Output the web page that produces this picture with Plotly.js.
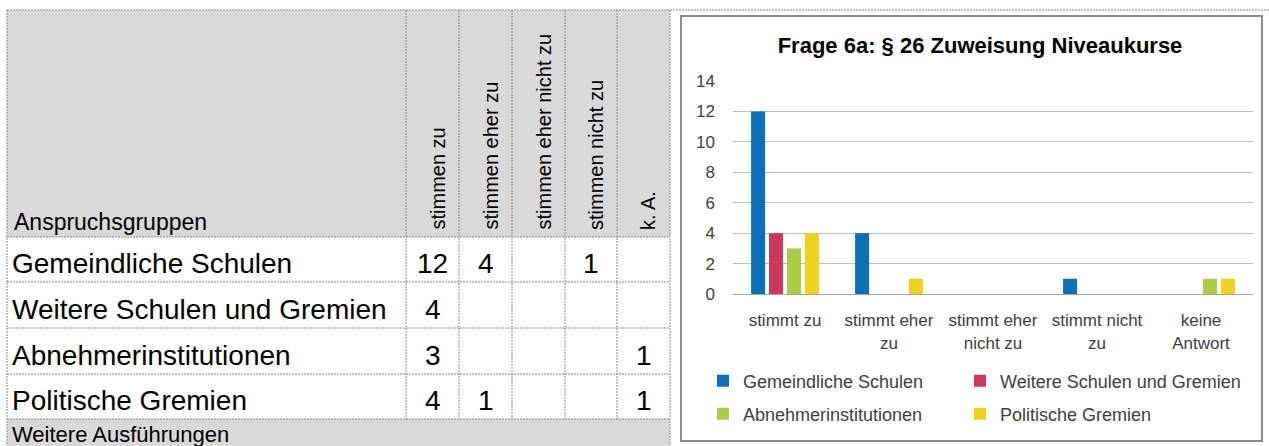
<!DOCTYPE html>
<html>
<head>
<meta charset="utf-8">
<script src="https://cdn.plot.ly/plotly-3.0.1.min.js"></script>
<style>
html,body{margin:0;padding:0;background:#fff;}
#chart{width:1269px;height:446px;}
</style>
</head>
<body>
<div id="chart"></div>
<script>
// ---- data ----
const categories = ['stimmt zu', 'stimmt eher<br>zu', 'stimmt eher<br>nicht zu', 'stimmt nicht<br>zu', 'keine<br>Antwort'];
const groups = ['Gemeindliche Schulen', 'Weitere Schulen und Gremien', 'Abnehmerinstitutionen', 'Politische Gremien'];
const gemeindlicheSchulen = [12, 4, 0, 1, 0];
const weitereSchulen = [4, 0, 0, 0, 0];
const abnehmerinstitutionen = [3, 0, 0, 0, 1];
const politischeGremien = [4, 1, 0, 0, 1];
const tableHeaders = ['stimmen zu', 'stimmen eher zu', 'stimmen eher nicht zu', 'stimmen nicht zu', 'k. A.'];
const tableCorner = 'Anspruchsgruppen';
const tableFooter = 'Weitere Ausführungen';
const chartTitle = 'Frage 6a: § 26 Zuweisung Niveaukurse';
const yTickValues = [0, 2, 4, 6, 8, 10, 12, 14];

// ---- layout helpers (pixel -> paper) ----
const W = 1269, H = 446;
const X = px => px / W;
const Y = py => 1 - py / H;

const series = [gemeindlicheSchulen, weitereSchulen, abnehmerinstitutionen, politischeGremien];
const colors = ['#0B6FB8', '#C93A5C', '#A9CF48', '#EBD320'];
const SANS = "'Liberation Sans', Arial, sans-serif";

const legendNames = ['legend', 'legend2', 'legend3', 'legend4'];
const traces = series.map((vals, i) => ({
  type: 'bar',
  name: groups[i],
  x: categories,
  y: vals,
  marker: {color: colors[i]},
  legend: legendNames[i],
  hoverinfo: 'skip'
}));

// ---- table geometry ----
const colEdges = [7, 406, 459, 512, 565, 617, 670];
const rowEdges = [10, 237, 282, 328, 374, 419];
const gridLine = {color: '#8a8a8a', width: 1, dash: '2px,1px'};

const shapes = [];
shapes.push({type: 'rect', xref: 'paper', yref: 'paper', x0: X(7), x1: X(670), y0: Y(10), y1: Y(237),
  fillcolor: '#D9D9D9', line: {width: 0}, layer: 'below'});
shapes.push({type: 'rect', xref: 'paper', yref: 'paper', x0: X(7), x1: X(670), y0: Y(419), y1: Y(446),
  fillcolor: '#D9D9D9', line: {width: 0}, layer: 'below'});
shapes.push({type: 'line', xref: 'paper', yref: 'paper', x0: X(7), x1: X(1269), y0: Y(10), y1: Y(10), line: gridLine});
rowEdges.slice(1).forEach(r => shapes.push({type: 'line', xref: 'paper', yref: 'paper',
  x0: X(7), x1: X(670), y0: Y(r), y1: Y(r), line: gridLine}));
colEdges.forEach((c, i) => {
  const full = (i === 0 || i === colEdges.length - 1);
  shapes.push({type: 'line', xref: 'paper', yref: 'paper', x0: X(c), x1: X(c),
    y0: Y(10), y1: Y(full ? 446 : 419), line: gridLine});
});
shapes.push({type: 'rect', xref: 'paper', yref: 'paper', x0: X(681), x1: X(1262), y0: Y(16), y1: Y(441),
  fillcolor: 'rgba(0,0,0,0)', line: {color: '#8C8C8C', width: 2}});

const annotations = [];
annotations.push({xref: 'paper', yref: 'paper', x: X(12), y: Y(237), xanchor: 'left', yanchor: 'bottom',
  text: tableCorner, showarrow: false, font: {family: SANS, size: 23, color: '#000'}});
tableHeaders.forEach((h, j) => {
  const cx = (colEdges[j + 1] + colEdges[j + 2]) / 2 + 5;
  annotations.push({xref: 'paper', yref: 'paper', x: X(cx), y: Y(232), xanchor: 'center', yanchor: 'bottom',
    text: h, textangle: -90, showarrow: false, font: {family: SANS, size: 20, color: '#000'}});
});
groups.forEach((g, i) => {
  const cy = (rowEdges[i + 1] + rowEdges[i + 2]) / 2 + 4;
  annotations.push({xref: 'paper', yref: 'paper', x: X(10), y: Y(cy), xanchor: 'left', yanchor: 'middle',
    text: g, showarrow: false, font: {family: SANS, size: 28, color: '#000'}});
  series[i].forEach((v, j) => {
    if (!v) return;
    const cx = (colEdges[j + 1] + colEdges[j + 2]) / 2;
    annotations.push({xref: 'paper', yref: 'paper', x: X(cx), y: Y(cy), xanchor: 'center', yanchor: 'middle',
      text: String(v), showarrow: false, font: {family: SANS, size: 28, color: '#000'}});
  });
});
annotations.push({xref: 'paper', yref: 'paper', x: X(10), y: Y(434), xanchor: 'left', yanchor: 'middle',
  text: tableFooter, showarrow: false, font: {family: SANS, size: 22, color: '#000'}});

// ---- legends: 2x2 grid ----
const legendPos = [[703, 381], [960, 381], [703, 414], [960, 414]];
const legendCfg = {};
legendNames.forEach((ln, i) => {
  legendCfg[ln] = {
    x: X(legendPos[i][0]), y: Y(legendPos[i][1]), xanchor: 'left', yanchor: 'middle',
    orientation: 'h', bgcolor: 'rgba(0,0,0,0)', borderwidth: 0, itemwidth: 30,
    font: {family: SANS, size: 18, color: '#404040'},
    itemclick: false, itemdoubleclick: false
  };
});

const layout = Object.assign({
  width: W, height: H,
  margin: {l: 0, r: 0, t: 0, b: 0},
  paper_bgcolor: '#ffffff',
  plot_bgcolor: 'rgba(0,0,0,0)',
  showlegend: true,
  title: {text: '<b>' + chartTitle + '</b>', x: X(980), xanchor: 'center', xref: 'paper',
    y: Y(45), yanchor: 'middle', yref: 'paper', font: {family: SANS, size: 22, color: '#000'}},
  barmode: 'group',
  bargap: 0.31,
  bargroupgap: 0.22,
  xaxis: {domain: [X(733), X(1253)], type: 'category', showgrid: false, showline: true,
    linecolor: '#A6A6A6', linewidth: 1, ticks: '', tickangle: 0, ticklabelstandoff: 11, fixedrange: true,
    tickfont: {family: SANS, size: 17, color: '#404040'}},
  yaxis: {domain: [Y(294), Y(81)], range: [0, 14], tickvals: yTickValues, showgrid: true,
    gridcolor: '#BFBFBF', gridwidth: 1, zeroline: false, showline: false, ticks: '',
    ticklabelstandoff: 17, fixedrange: true,
    tickfont: {family: SANS, size: 17, color: '#404040'}},
  shapes: shapes,
  annotations: annotations
}, legendCfg);

Plotly.newPlot('chart', traces, layout, {displayModeBar: false, staticPlot: true});
</script>
</body>
</html>
